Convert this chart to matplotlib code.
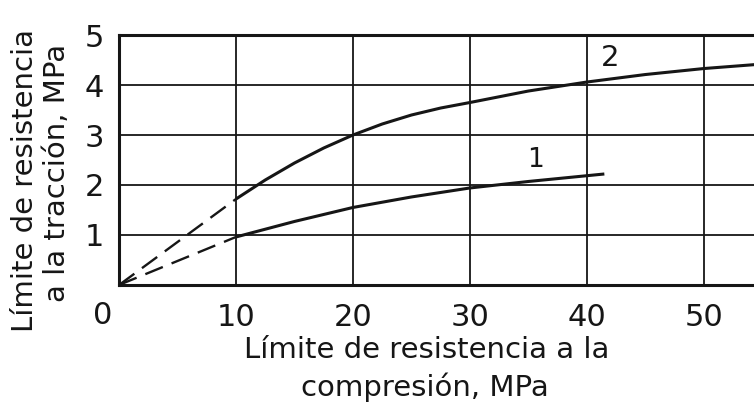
#!/usr/bin/env python3
"""Límite de resistencia a la tracción vs compresión (curvas 1 y 2)."""

import matplotlib
matplotlib.use('Agg')
import matplotlib.pyplot as plt

# curva 1: tramo discontinuo (extrapolado) y tramo continuo
c1_dash_x = [0, 10]
c1_dash_y = [0, 0.96]
c1_x = [10, 15, 20, 25, 30, 35, 41.5]
c1_y = [0.96, 1.27, 1.55, 1.76, 1.94, 2.07, 2.22]

# curva 2
c2_dash_x = [0, 10]
c2_dash_y = [0, 1.72]
c2_x = [10, 12.5, 15, 17.5, 20, 22.5, 25, 27.5, 30, 35, 40, 45, 50, 55]
c2_y = [1.72, 2.1, 2.44, 2.74, 3.0, 3.22, 3.4, 3.54, 3.65, 3.88, 4.06,
        4.21, 4.33, 4.42]

xticks = [10, 20, 30, 40, 50]
yticks = [1, 2, 3, 4, 5]

ink = '#161616'
plt.rcParams['font.family'] = ['DejaVu Sans']

fig = plt.figure(figsize=(7.54, 4.03), dpi=100)
ax = fig.add_axes([0.158, 0.293, 0.842, 0.62])

ax.plot(c1_dash_x, c1_dash_y, color=ink, lw=1.7, dashes=(8, 4))
ax.plot(c2_dash_x, c2_dash_y, color=ink, lw=1.7, dashes=(8, 4))
ax.plot(c1_x, c1_y, color=ink, lw=2.2, solid_capstyle='butt')
ax.plot(c2_x, c2_y, color=ink, lw=2.2, solid_capstyle='butt')

ax.text(42.0, 4.54, '2', fontsize=21, color=ink, ha='center', va='center')
ax.text(35.6, 2.5, '1', fontsize=19, color=ink, ha='center', va='center')

ax.set_xlim(0, 54.3)
ax.set_ylim(0, 5)
ax.set_xticks(xticks)
ax.set_yticks(yticks)
ax.grid(True, color=ink, lw=1.3)
ax.set_axisbelow(True)
ax.tick_params(length=0, labelsize=22, labelcolor=ink)
ax.tick_params(axis='x', pad=13)
ax.tick_params(axis='y', pad=11)
for side in ['left', 'bottom', 'top']:
    ax.spines[side].set_linewidth(2.2)
    ax.spines[side].set_color(ink)
ax.spines['right'].set_visible(False)

# el "0" compartido del origen
fig.text(103 / 754, 1 - 315 / 403, '0', fontsize=22, color=ink,
         ha='center', va='center')

fig.text(427 / 754, 1 - 350 / 403, 'Límite de resistencia a la',
         fontsize=21, color=ink, ha='center', va='center')
fig.text(425 / 754, 1 - 387 / 403, 'compresión, MPa',
         fontsize=21, color=ink, ha='center', va='center')
fig.text(25 / 754, 1 - 180 / 403, 'Límite de resistencia',
         fontsize=21, color=ink, ha='center', va='center', rotation=90)
fig.text(57 / 754, 1 - 173 / 403, 'a la tracción, MPa',
         fontsize=21, color=ink, ha='center', va='center', rotation=90)

fig.savefig('out.png', dpi=100, facecolor='white')
